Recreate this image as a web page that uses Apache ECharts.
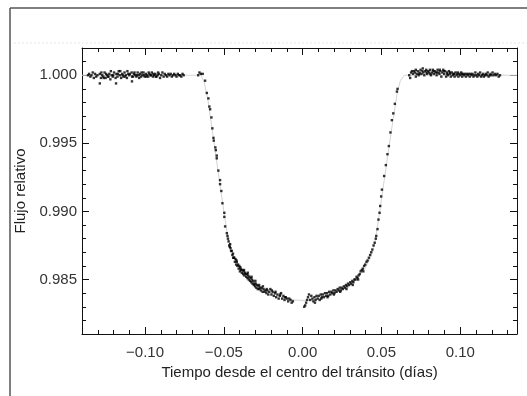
<!DOCTYPE html>
<html>
<head>
<meta charset="utf-8">
<script src="https://cdn.jsdelivr.net/npm/echarts@6/dist/echarts.min.js"></script>
<style>
  html, body { margin: 0; padding: 0; background: #fff; }
  #chart { width: 527px; height: 396px; }
</style>
</head>
<body>
<div id="chart"></div>
<script>
// tick labels
const xMajor = [-0.10, -0.05, 0.00, 0.05, 0.10]
const xMinor = [-0.13, -0.12, -0.11, -0.09, -0.08, -0.07, -0.06, -0.04, -0.03, -0.02, -0.01,
  0.01, 0.02, 0.03, 0.04, 0.06, 0.07, 0.08, 0.09, 0.11, 0.12, 0.13]
const yMajor = [0.985, 0.990, 0.995, 1.000]
const yMinor = [0.982, 0.983, 0.984, 0.986, 0.987, 0.988, 0.989, 0.991, 0.992, 0.993, 0.994,
  0.996, 0.997, 0.998, 0.999, 1.001]

// fuera del tránsito (izquierda)
const baseLeft = [
  [-0.1362, 1.0000], [-0.1355, 1.0001], [-0.1347, 0.9999], [-0.1340, 1.0000], [-0.1332, 1.0002],
  [-0.1325, 0.9998], [-0.1317, 1.0001], [-0.1310, 0.9999], [-0.1302, 1.0000], [-0.1287, 0.9994],
  [-0.1287, 1.0001], [-0.1280, 0.9998], [-0.1272, 1.0000], [-0.1265, 0.9999], [-0.1257, 1.0002],
  [-0.1250, 0.9998], [-0.1242, 1.0000], [-0.1235, 0.9999], [-0.1227, 1.0001], [-0.1220, 0.9997],
  [-0.1212, 1.0000], [-0.1205, 0.9999], [-0.1197, 1.0002], [-0.1184, 0.9994], [-0.1182, 1.0001],
  [-0.1175, 0.9999], [-0.1167, 1.0003], [-0.1160, 1.0000], [-0.1152, 0.9998], [-0.1145, 1.0001],
  [-0.1137, 0.9999], [-0.1130, 1.0002], [-0.1122, 1.0000], [-0.1115, 0.9998], [-0.1107, 1.0001],
  [-0.1100, 1.0000], [-0.1083, 0.99955], [-0.1085, 1.0002], [-0.1077, 0.9999], [-0.1070, 1.0001],
  [-0.1062, 1.0000], [-0.1055, 0.9999], [-0.1047, 1.0002], [-0.1040, 1.0000], [-0.1032, 1.0001],
  [-0.1025, 0.9999], [-0.1017, 1.0000], [-0.1010, 1.0002], [-0.1002, 0.9999], [-0.0995, 1.0001],
  [-0.0987, 1.0000], [-0.0980, 0.9999], [-0.0972, 1.0001], [-0.0965, 1.0000], [-0.0957, 1.0002],
  [-0.0950, 0.9999], [-0.0942, 1.0000], [-0.0935, 1.0001], [-0.0927, 0.9999], [-0.0920, 1.0000],
  [-0.0912, 1.0001], [-0.0905, 0.9998], [-0.0897, 1.0000], [-0.0890, 1.0002], [-0.0882, 0.9999],
  [-0.0875, 1.0001], [-0.0867, 1.0000], [-0.0860, 0.9999], [-0.0852, 1.0001], [-0.0845, 1.0000],
  [-0.0837, 1.0001], [-0.0830, 0.9999], [-0.0822, 1.0000], [-0.0815, 1.0001], [-0.0807, 1.0000],
  [-0.0800, 0.9999], [-0.0792, 1.0001], [-0.0785, 1.0000], [-0.0777, 1.0000], [-0.0770, 0.9999],
  [-0.0762, 1.0001], [-0.0755, 1.0000],
  [-0.1277, 1.0002], [-0.1262, 0.9998], [-0.1247, 1.0001], [-0.1232, 0.9999], [-0.1217, 1.0003],
  [-0.1202, 1.0000], [-0.1187, 0.9998], [-0.1172, 1.0001], [-0.1157, 1.0003], [-0.1142, 1.0000],
  [-0.1127, 0.9999], [-0.1112, 1.0003], [-0.1097, 1.0001], [-0.1082, 0.9999], [-0.1067, 1.0002],
  [-0.1052, 1.0000], [-0.1037, 0.9998], [-0.1022, 1.0002], [-0.1007, 1.0000], [-0.0992, 0.9999],
  [-0.0977, 1.0002], [-0.0962, 1.0000], [-0.0947, 1.0001], [-0.0932, 0.9999], [-0.0917, 1.0002]
]

// ingreso
const ingress = [
  [-0.0663, 1.0000], [-0.0655, 1.0002], [-0.0646, 1.0001], [-0.0634, 1.0001],
  [-0.0619, 0.9996], [-0.0608, 0.9987], [-0.0598, 0.9983], [-0.0592, 0.9977], [-0.0587, 0.9975],
  [-0.0579, 0.9969], [-0.0573, 0.9961], [-0.0566, 0.9954], [-0.0564, 0.9952], [-0.0554, 0.9947],
  [-0.0551, 0.9945], [-0.0545, 0.9941], [-0.0545, 0.9939], [-0.0535, 0.9930], [-0.0524, 0.9923],
  [-0.0524, 0.9920], [-0.0516, 0.9915], [-0.0509, 0.9906], [-0.0497, 0.9899], [-0.0497, 0.9896],
  [-0.0492, 0.9889], [-0.0481, 0.9884], [-0.0477, 0.9882]
]

// fondo del tránsito
const bottomLeft = [
  [-0.0474, 0.9880], [-0.0470, 0.9878], [-0.0466, 0.9875], [-0.0462, 0.9874], [-0.0458, 0.9873],
  [-0.0454, 0.9871], [-0.0450, 0.9871], [-0.0446, 0.9868], [-0.0442, 0.9869], [-0.0438, 0.9866],
  [-0.0434, 0.9866], [-0.0430, 0.9863], [-0.0426, 0.9865], [-0.0422, 0.9861], [-0.0418, 0.9863],
  [-0.0414, 0.9860], [-0.0410, 0.9861], [-0.0406, 0.9858], [-0.0402, 0.9860], [-0.0398, 0.9856],
  [-0.0394, 0.9858], [-0.0390, 0.9857], [-0.0386, 0.9855], [-0.0382, 0.9857], [-0.0378, 0.9854],
  [-0.0374, 0.9856], [-0.0370, 0.9853], [-0.0366, 0.9855], [-0.0362, 0.9854], [-0.0358, 0.9852],
  [-0.0354, 0.9854], [-0.0350, 0.9851], [-0.0346, 0.9853], [-0.0342, 0.9850], [-0.0338, 0.9852],
  [-0.0334, 0.9849], [-0.0330, 0.9851], [-0.0326, 0.9848], [-0.0322, 0.9850], [-0.0318, 0.9847],
  [-0.0314, 0.9849], [-0.0310, 0.9846], [-0.0306, 0.9847], [-0.0302, 0.9845], [-0.0298, 0.9847],
  [-0.0294, 0.9844], [-0.0290, 0.9846], [-0.0285, 0.9843], [-0.0280, 0.9845], [-0.0275, 0.9843],
  [-0.0270, 0.9844], [-0.0265, 0.9842], [-0.0260, 0.9844], [-0.0254, 0.9841], [-0.0248, 0.9843],
  [-0.0242, 0.9841], [-0.0236, 0.9842], [-0.0230, 0.9840], [-0.0224, 0.9842], [-0.0218, 0.9839],
  [-0.0212, 0.9841], [-0.0205, 0.9843], [-0.0198, 0.9839], [-0.0190, 0.9841], [-0.0183, 0.9838],
  [-0.0175, 0.9840], [-0.0168, 0.9837], [-0.0160, 0.9839], [-0.0152, 0.9836], [-0.0145, 0.9838],
  [-0.0137, 0.9840], [-0.0130, 0.9836], [-0.0122, 0.9838], [-0.0115, 0.9835], [-0.0107, 0.9837],
  [-0.0100, 0.9836], [-0.0092, 0.9834], [-0.0085, 0.9836], [-0.0077, 0.9835], [-0.0070, 0.9833],
  [-0.0062, 0.9834],
  [-0.0460, 0.9876], [-0.0440, 0.9866], [-0.0420, 0.9864], [-0.0396, 0.9859], [-0.0372, 0.9857],
  [-0.0348, 0.9855], [-0.0324, 0.9852], [-0.0300, 0.9849], [-0.0276, 0.9846], [-0.0252, 0.9845],
  [-0.0228, 0.9843], [-0.0196, 0.9842], [-0.0172, 0.9841], [-0.0142, 0.9839], [-0.0112, 0.9837]
]
const bottomRight = [
  [0.0010, 0.9830], [0.0016, 0.9831], [0.0022, 0.9833], [0.0028, 0.9835], [0.0034, 0.9837],
  [0.0040, 0.9839], [0.0048, 0.9835], [0.0055, 0.9838], [0.0062, 0.9836], [0.0068, 0.9834],
  [0.0075, 0.9837], [0.0082, 0.9835], [0.0088, 0.9838], [0.0095, 0.9836], [0.0102, 0.9838],
  [0.0108, 0.9835], [0.0115, 0.9839], [0.0122, 0.9837], [0.0128, 0.9839], [0.0135, 0.9837],
  [0.0142, 0.9840], [0.0148, 0.9838], [0.0155, 0.9840], [0.0162, 0.9838], [0.0168, 0.9841],
  [0.0175, 0.9839], [0.0182, 0.9841], [0.0188, 0.9840], [0.0195, 0.9842], [0.0202, 0.9840],
  [0.0208, 0.9842], [0.0215, 0.9841], [0.0222, 0.9843], [0.0228, 0.9842], [0.0235, 0.9844],
  [0.0242, 0.9842], [0.0248, 0.9844], [0.0255, 0.9843], [0.0262, 0.9845], [0.0268, 0.9844],
  [0.0275, 0.9846], [0.0282, 0.9845], [0.0288, 0.9847], [0.0295, 0.9846], [0.0302, 0.9848],
  [0.0308, 0.9847], [0.0315, 0.9849], [0.0322, 0.9848], [0.0328, 0.9850], [0.0335, 0.9850],
  [0.0342, 0.9852], [0.0348, 0.9851], [0.0355, 0.9853], [0.0362, 0.9854], [0.0368, 0.9856],
  [0.0375, 0.9857], [0.0382, 0.9858], [0.0390, 0.9860], [0.0397, 0.9861], [0.0405, 0.9863],
  [0.0412, 0.9864], [0.0420, 0.9866], [0.0428, 0.9868], [0.0435, 0.9870], [0.0442, 0.9872],
  [0.0450, 0.9875], [0.0457, 0.9877], [0.0464, 0.9880],
  [0.0078, 0.9833], [0.0118, 0.9836], [0.0158, 0.9837], [0.0198, 0.9839], [0.0238, 0.9841],
  [0.0278, 0.9843], [0.0318, 0.9846], [0.0352, 0.9850], [0.0385, 0.9856]
]

// egreso
const egress = [
  [0.0467, 0.9882], [0.0475, 0.9887], [0.0481, 0.9894], [0.0488, 0.9899], [0.0492, 0.9904],
  [0.0498, 0.9911], [0.0503, 0.9916], [0.0517, 0.9926], [0.0528, 0.9934], [0.0538, 0.9942],
  [0.0547, 0.9948], [0.0557, 0.9958], [0.0566, 0.9967], [0.0575, 0.9972], [0.0585, 0.9979],
  [0.0598, 0.9988], [0.0602, 0.9990]
]

// fuera del tránsito (derecha)
const baseRight = [
  [0.0676, 1.0000], [0.0682, 0.9998], [0.0688, 1.0002], [0.0694, 1.0003], [0.0700, 1.0001],
  [0.0706, 1.0003], [0.0712, 1.0002], [0.0718, 1.0004], [0.0724, 1.0001], [0.0730, 1.0003],
  [0.0736, 1.0000], [0.0742, 1.0002], [0.0748, 1.0004], [0.0754, 1.0001], [0.0760, 1.0003],
  [0.0766, 1.0002], [0.0772, 1.0000], [0.0778, 1.0003], [0.0784, 1.0004], [0.0790, 1.0001],
  [0.0796, 1.0003], [0.0802, 1.0002], [0.0808, 1.0004], [0.0814, 1.0000], [0.0820, 1.0002],
  [0.0826, 1.0004], [0.0832, 1.0001], [0.0838, 1.0003], [0.0844, 1.0002], [0.0850, 1.0000],
  [0.0856, 1.0004], [0.0862, 1.0002], [0.0868, 1.0001], [0.0874, 1.0003], [0.0880, 0.9999],
  [0.0886, 1.0002], [0.0892, 1.0004], [0.0898, 1.0001], [0.0904, 1.0003], [0.0910, 0.9999],
  [0.0916, 1.0002], [0.0922, 1.0000], [0.0928, 1.0003], [0.0934, 1.0001], [0.0940, 0.9999],
  [0.0946, 1.0002], [0.0952, 1.0000], [0.0958, 1.0001], [0.0964, 0.9999], [0.0970, 1.0002],
  [0.0976, 1.0000], [0.0982, 1.0001], [0.0988, 0.9999], [0.0994, 1.0001], [0.1000, 1.0000],
  [0.1006, 1.0002], [0.1012, 0.9999], [0.1018, 1.0001], [0.1024, 1.0000], [0.1030, 1.0001],
  [0.1036, 0.9999], [0.1042, 1.0001], [0.1048, 1.0000], [0.1054, 1.0001], [0.1060, 0.9999],
  [0.1066, 1.0001], [0.1072, 1.0000], [0.1078, 1.0001], [0.1084, 0.9999], [0.1090, 1.0000],
  [0.1096, 1.0002], [0.1102, 1.0000], [0.1108, 0.9999], [0.1114, 1.0001], [0.1120, 1.0000],
  [0.1126, 1.0002], [0.1132, 0.9999], [0.1138, 1.0000], [0.1144, 1.0001], [0.1150, 0.9999],
  [0.1156, 1.0000], [0.1162, 1.0001], [0.1168, 1.0000], [0.1174, 1.0002], [0.1180, 0.9999],
  [0.1186, 1.0000], [0.1192, 1.0001], [0.1198, 1.0000], [0.1205, 1.0002], [0.1212, 1.0000],
  [0.1220, 1.0001], [0.1228, 1.0000], [0.1236, 1.0001], [0.1244, 0.9999], [0.1252, 1.0000],
  [0.0718, 0.9999], [0.0740, 1.0001], [0.0762, 1.0005], [0.0786, 1.0002], [0.0810, 1.0001],
  [0.0830, 1.0003], [0.0852, 1.0002], [0.0870, 1.0004], [0.0895, 1.0003], [0.0918, 1.0001],
  [0.0936, 1.0002], [0.0960, 1.0001], [0.0985, 1.0002], [0.1010, 1.0001]
]

// modelo
const model = [
  [-0.140, 1.0000], [-0.0645, 1.0000], [-0.0625, 0.9995], [-0.0600, 0.9981], [-0.0500, 0.9900],
  [-0.0475, 0.9881], [-0.0455, 0.9872], [-0.0430, 0.9865], [-0.0400, 0.9859], [-0.0360, 0.9853],
  [-0.0320, 0.9848], [-0.0280, 0.9845], [-0.0240, 0.9842], [-0.0200, 0.9840], [-0.0150, 0.9838],
  [-0.0100, 0.9836], [-0.0050, 0.98350], [0.0000, 0.98346], [0.0050, 0.98350], [0.0100, 0.9836],
  [0.0150, 0.9838], [0.0200, 0.9840], [0.0240, 0.9842], [0.0280, 0.9845], [0.0320, 0.9848],
  [0.0360, 0.9853], [0.0400, 0.9859], [0.0430, 0.9866], [0.0460, 0.9878], [0.0480, 0.9893],
  [0.0560, 0.9957], [0.0600, 0.9987], [0.0620, 0.9996], [0.0645, 1.0000], [0.136, 1.0000]
]

const fmtX = v => (Math.abs(v) < 1e-9 ? '0.00' : v.toFixed(2).replace('-', '\u2212'))
const fmtY = v => v.toFixed(3)
const FONT = 'Liberation Sans'

const xBase = { type: 'value', min: -0.14, max: 0.136, splitLine: { show: false } }
const yBase = { type: 'value', min: 0.981, max: 1.002, splitLine: { show: false } }
const lineBlack = { show: true, onZero: false, lineStyle: { color: '#111', width: 1 } }
const noLine = { show: false, onZero: false }
const tick = (vals, len) => ({ show: true, inside: true, length: len, customValues: vals, lineStyle: { color: '#111', width: 1 } })

const dots = (data) => ({
  type: 'scatter',
  data: data,
  symbol: 'rect',
  symbolSize: 2.4,
  itemStyle: { color: '#000' },
  silent: true,
  z: 3
})

const chart = echarts.init(document.getElementById('chart'))
chart.setOption({
  animation: false,
  backgroundColor: '#fff',
  grid: { left: 82, right: 10, top: 48, bottom: 62 },
  xAxis: [
    Object.assign({}, xBase, {
      position: 'bottom',
      axisLine: lineBlack,
      axisTick: tick(xMajor, 7),
      axisLabel: { customValues: xMajor, formatter: fmtX, color: '#333', fontSize: 15, fontFamily: FONT, margin: 11 },
      name: 'Tiempo desde el centro del tránsito (días)',
      nameLocation: 'middle',
      nameGap: 24,
      nameTextStyle: { color: '#222', fontSize: 15, fontFamily: FONT }
    }),
    Object.assign({}, xBase, { position: 'bottom', axisLine: noLine, axisTick: tick(xMinor, 4), axisLabel: { show: false } }),
    Object.assign({}, xBase, { position: 'top', axisLine: lineBlack, axisTick: tick(xMajor, 7), axisLabel: { show: false } }),
    Object.assign({}, xBase, { position: 'top', axisLine: noLine, axisTick: tick(xMinor, 4), axisLabel: { show: false } })
  ],
  yAxis: [
    Object.assign({}, yBase, {
      position: 'left',
      axisLine: lineBlack,
      axisTick: tick(yMajor, 7),
      axisLabel: { customValues: yMajor, formatter: fmtY, color: '#333', fontSize: 15, fontFamily: FONT, margin: 5 },
      name: 'Flujo relativo',
      nameLocation: 'middle',
      nameGap: 54,
      nameTextStyle: { color: '#222', fontSize: 15, fontFamily: FONT }
    }),
    Object.assign({}, yBase, { position: 'left', axisLine: noLine, axisTick: tick(yMinor, 4), axisLabel: { show: false } }),
    Object.assign({}, yBase, { position: 'right', axisLine: lineBlack, axisTick: tick(yMajor, 7), axisLabel: { show: false } }),
    Object.assign({}, yBase, { position: 'right', axisLine: noLine, axisTick: tick(yMinor, 4), axisLabel: { show: false } })
  ],
  graphic: [
    { type: 'line', shape: { x1: 10, y1: 8, x2: 527, y2: 8 }, style: { stroke: '#555', lineWidth: 1.5 } },
    { type: 'line', shape: { x1: 10, y1: 8, x2: 10, y2: 396 }, style: { stroke: '#555', lineWidth: 1.5 } },
    { type: 'line', shape: { x1: 14, y1: 43, x2: 527, y2: 43 }, style: { stroke: '#e6e6e6', lineWidth: 1, lineDash: [2, 2] } }
  ],
  series: [
    {
      type: 'line',
      data: model,
      showSymbol: false,
      lineStyle: { color: '#d4d4d4', width: 1 },
      silent: true,
      z: 2
    },
    dots(baseLeft),
    dots(ingress),
    dots(bottomLeft),
    dots(bottomRight),
    dots(egress),
    dots(baseRight)
  ]
})
</script>
</body>
</html>
